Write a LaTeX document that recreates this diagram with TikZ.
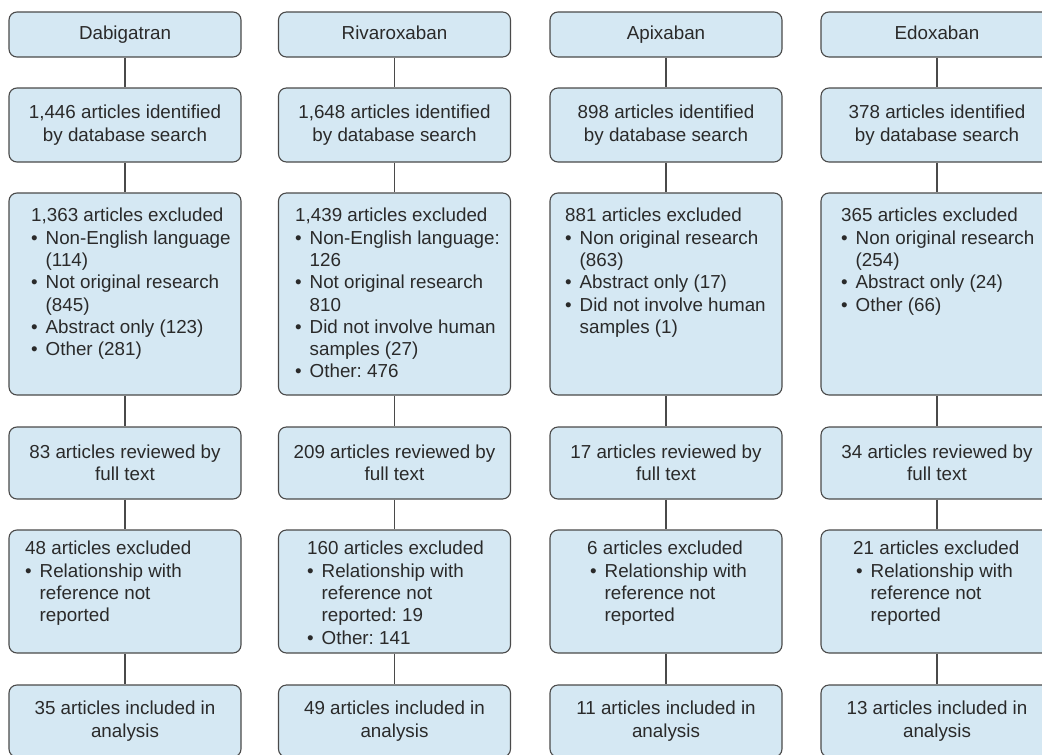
\documentclass[tikz,border=0pt]{standalone}
\usepackage{fontspec}
\setmainfont{Liberation Sans}
\definecolor{boxfill}{HTML}{D5E8F3}
\definecolor{boxline}{HTML}{4A4A4A}
\definecolor{txtcol}{HTML}{2A2A2A}
\newcommand{\fsz}{\fontsize{18.8pt}{22.3pt}\selectfont\frenchspacing}
\newcommand{\bul}{\makebox[14.5pt][l]{•}}
\newcommand{\hng}{\hspace*{14.5pt}}
\begin{document}
\begin{tikzpicture}[x=1pt,y=-1pt,
  box/.style={draw=boxline, fill=boxfill, rounded corners=8pt, line width=1.1pt,
    minimum width=232pt, inner sep=0pt, align=center, text=txtcol, font=\fsz},
  r1/.style={box, minimum height=45pt, text height=13.6pt, text depth=4pt},
  r2/.style={box, minimum height=74pt},
  r3/.style={box, minimum height=202pt},
  r4/.style={box, minimum height=72pt},
  r5/.style={box, minimum height=123pt},
  r6/.style={box, minimum height=72pt},
  tblock/.style={anchor=north west, inner sep=0pt, align=left, text=txtcol, font=\fsz},
  conn/.style={draw=boxline, line width=1.1pt}]
\useasboundingbox (0,0) rectangle (1042,755);
\clip (0,0) rectangle (1042,755);
% Column 1
\node[r1] (a1) at (125,34.5) {Dabigatran};
\node[r2] (a2) at (125,125) {1,446 articles identified\\by database search};
\node[r3] (a3) at (125,294) {};
\node[r4] (a4) at (125,463) {83 articles reviewed by\\full text};
\node[r5] (a5) at (125,591.5) {};
\node[r6] (a6) at (125,721) {35 articles included in\\analysis};
% Column 2
\node[r1] (b1) at (394.5,34.5) {Rivaroxaban};
\node[r2] (b2) at (394.5,125) {1,648 articles identified\\by database search};
\node[r3] (b3) at (394.5,294) {};
\node[r4] (b4) at (394.5,463) {209 articles reviewed by\\full text};
\node[r5] (b5) at (394.5,591.5) {};
\node[r6] (b6) at (394.5,721) {49 articles included in\\analysis};
% Column 3
\node[r1] (c1) at (666,34.5) {Apixaban};
\node[r2] (c2) at (666,125) {898 articles identified\\by database search};
\node[r3] (c3) at (666,294) {};
\node[r4] (c4) at (666,463) {17 articles reviewed by\\full text};
\node[r5] (c5) at (666,591.5) {};
\node[r6] (c6) at (666,721) {11 articles included in\\analysis};
% Column 4
\node[r1] (d1) at (937,34.5) {Edoxaban};
\node[r2] (d2) at (937,125) {378 articles identified\\by database search};
\node[r3] (d3) at (937,294) {};
\node[r4] (d4) at (937,463) {34 articles reviewed by\\full text};
\node[r5] (d5) at (937,591.5) {};
\node[r6] (d6) at (937,721) {13 articles included in\\analysis};
% Connectors
\foreach \c in {a,b,c,d}{
  \draw[conn] (\c1) -- (\c2);
  \draw[conn] (\c2) -- (\c3);
  \draw[conn] (\c3) -- (\c4);
  \draw[conn] (\c4) -- (\c5);
  \draw[conn] (\c5) -- (\c6);
}
% Exclusion texts, row 3
\node[tblock] (a3t) at (31,208) {1,363 articles excluded\\
\bul Non-English language\\ \hng(114)\\
\bul Not original research\\ \hng(845)\\
\bul Abstract only (123)\\
\bul Other (281)};
\node[tblock] (b3t) at (295,208) {1,439 articles excluded\\
\bul Non-English language:\\ \hng126\\
\bul Not original research\\ \hng810\\
\bul Did not involve human\\ \hng samples (27)\\
\bul Other: 476};
\node[tblock] (c3t) at (565,208) {881 articles excluded\\
\bul Non original research\\ \hng(863)\\
\bul Abstract only (17)\\
\bul Did not involve human\\ \hng samples (1)};
\node[tblock] (d3t) at (841,208) {365 articles excluded\\
\bul Non original research\\ \hng(254)\\
\bul Abstract only (24)\\
\bul Other (66)};
% Exclusion texts, row 5
\node[tblock] (a5t) at (25,541) {48 articles excluded\\
\bul Relationship with\\ \hng reference not\\ \hng reported};
\node[tblock] (b5t) at (307,541) {160 articles excluded\\
\bul Relationship with\\ \hng reference not\\ \hng reported: 19\\
\bul Other: 141};
\node[tblock] (c5t) at (587,541) {6 articles excluded\\
\hspace*{3pt}\bul Relationship with\\ \hspace*{3pt}\hng reference not\\ \hspace*{3pt}\hng reported};
\node[tblock] (d5t) at (853,541) {21 articles excluded\\
\hspace*{3pt}\bul Relationship with\\ \hspace*{3pt}\hng reference not\\ \hspace*{3pt}\hng reported};
\end{tikzpicture}
\end{document}
